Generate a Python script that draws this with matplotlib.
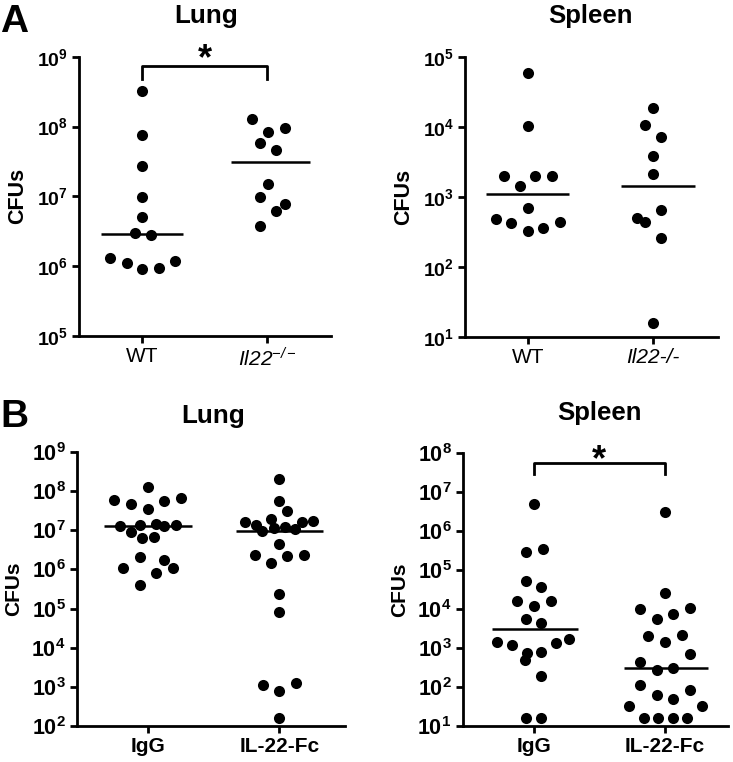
import numpy as np
import matplotlib
matplotlib.use("Agg")
import matplotlib.pyplot as plt
from matplotlib.ticker import NullLocator

plt.rcParams['font.family'] = ['Liberation Sans', 'DejaVu Sans']
plt.rcParams['mathtext.fontset'] = 'custom'
plt.rcParams['mathtext.bf'] = 'Liberation Sans:bold'
plt.rcParams['mathtext.rm'] = 'Liberation Sans:bold'
plt.rcParams['mathtext.sf'] = 'Liberation Sans:italic'
plt.rcParams['mathtext.it'] = 'Liberation Sans:italic'

# ---- data (CFUs per mouse), x jitter ----
a_lung_wt_x = [0, 0, 0, 0, 0, -0.06, 0.07, -0.26, -0.12, 0, 0.135, 0.26]
a_lung_wt = [3.2e8, 7.6e7, 2.7e7, 9.7e6, 5.1e6, 2.95e6, 2.8e6, 1.32e6, 1.1e6, 9.0e5, 9.3e5, 1.19e6]
a_lung_ko_x = [-0.12, 0.14, 0.01, -0.055, 0.075, 0.01, -0.055, 0.14, 0.075, -0.055]
a_lung_ko = [1.27e8, 9.4e7, 8.3e7, 5.9e7, 4.6e7, 1.52e7, 9.9e6, 7.9e6, 6.2e6, 3.8e6]
a_lung_medians = [2.9e6, 3.07e7]

a_spl_wt_x = [0, 0, -0.19, 0.06, 0.19, -0.065, 0, -0.255, -0.13, 0.255, 0, 0.125]
a_spl_wt = [5.8e4, 1.03e4, 2.0e3, 2.0e3, 2.0e3, 1.45e3, 705, 486, 431, 440, 324, 357]
a_spl_ko_x = [0, -0.065, 0.065, 0, 0, 0.065, -0.13, -0.065, 0.065, 0]
a_spl_ko = [1.84e4, 1.06e4, 7.2e3, 3.8e3, 2.13e3, 653, 497, 436, 261, 16.2]
a_spl_medians = [1.09e3, 1.42e3]

b_lung_igg_x = [0, -0.26, -0.13, 0.12, 0.25, 0, -0.215, -0.065, 0.06, 0.12, 0.21,
                -0.13, -0.045, 0.04, -0.065, 0.12, -0.19, 0.19, 0.06, -0.063]
b_lung_igg = [1.3e8, 5.9e7, 4.7e7, 5.6e7, 6.6e7, 3.6e7, 1.29e7, 1.36e7, 1.42e7, 1.29e7, 1.36e7,
              9.2e6, 6.2e6, 6.9e6, 2.1e6, 1.74e6, 1.07e6, 1.07e6, 8.2e5, 4.0e5]
b_lung_fc_x = [0, 0, 0.06, -0.26, -0.066, 0.255, -0.18, 0.17, -0.135, -0.045, 0.044, 0.12,
               0, -0.19, 0.06, 0.19, -0.066, 0, 0, -0.127, 0.127, 0, 0]
b_lung_fc = [2.04e8, 5.7e7, 3.1e7, 1.66e7, 2.0e7, 1.73e7, 1.36e7, 1.6e7, 9.6e6, 1.16e7, 1.24e7, 1.06e7,
             4.6e6, 2.33e6, 2.24e6, 2.33e6, 1.43e6, 2.4e5, 8.0e4, 1.11e3, 1.28e3, 7.8e2, 163]
b_lung_medians = [1.29e7, 9.8e6]

b_spl_igg_x = [0, -0.06, 0.07, -0.06, 0.06, -0.13, 0, 0.13, -0.06, 0.06,
               -0.277, -0.168, 0.17, 0.27, -0.05, 0.056, -0.066, 0.06, -0.06, 0.06]
b_spl_igg = [4.8e6, 2.9e5, 3.5e5, 5.3e4, 3.7e4, 1.62e4, 1.2e4, 1.62e4, 5.4e3, 4.4e3,
             1.39e3, 1.19e3, 1.31e3, 1.69e3, 728, 800, 490, 190, 16.5, 16.5]
b_spl_fc_x = [0, 0, -0.19, -0.063, 0.06, 0.19, -0.127, 0, 0.127, 0.19, -0.19, -0.063,
              0.063, -0.19, -0.063, 0.063, 0.19, -0.272, 0.28, -0.16, -0.05, 0.06, 0.165]
b_spl_fc = [3.1e6, 2.6e4, 9.8e3, 5.5e3, 7.4e3, 1.03e4, 2.0e3, 1.44e3, 2.14e3, 698, 444, 272,
            300, 112, 62, 48, 84, 32.5, 32.5, 16.5, 16.5, 16.5, 16.5]
b_spl_medians = [3.05e3, 300]

fig = plt.figure(figsize=(7.33, 7.62), dpi=100)


def draw_panel(rect, groups, medians, med_span, xlim, decades, xlabels, tick_fs, xlab_kw, ylab_fs):
    ax = fig.add_axes(rect)
    for i, (xo, vals) in enumerate(groups):
        ax.plot(np.array(xo) + i, vals, 'o', color='black', markersize=8.0, markeredgewidth=0)
        ax.plot([i + med_span[i][0], i + med_span[i][1]], [medians[i]] * 2, color='black', lw=1.8,
                solid_capstyle='butt')
    ax.set_yscale('log')
    ax.set_ylim(10.0 ** decades[0], 10.0 ** decades[-1])
    ax.set_xlim(*xlim)
    ax.yaxis.set_minor_locator(NullLocator())
    ax.set_yticks([10.0 ** d for d in decades])
    ax.set_yticklabels([r'$\mathbf{10}^{\mathbf{%d}}$' % d for d in decades], fontsize=tick_fs)
    ax.set_xticks([0, 1])
    ax.set_xticklabels(xlabels, **xlab_kw)
    for s in ['top', 'right']:
        ax.spines[s].set_visible(False)
    for s in ['left', 'bottom']:
        ax.spines[s].set_linewidth(2)
    ax.tick_params(axis='both', direction='out', length=5, width=2, pad=3)
    ax.set_ylabel('CFUs', fontsize=ylab_fs, fontweight='bold', labelpad=6)
    return ax


def bracket(ax, y_top, y_bot, star_y, fs):
    ax.plot([0, 0, 1, 1], [y_bot, y_top, y_top, y_bot], color='black', lw=2, clip_on=False)
    ax.text(0.5, star_y, '*', ha='center', va='baseline', fontsize=fs, fontweight='bold')


# A - Lung
ax1 = draw_panel([0.1078, 0.559, 0.3438, 0.3666],
                 [(a_lung_wt_x, a_lung_wt), (a_lung_ko_x, a_lung_ko)], a_lung_medians,
                 [(-0.33, 0.33), (-0.29, 0.34)], (-0.504, 1.512), [5, 6, 7, 8, 9],
                 ['WT', r'$\mathsf{Il22}^{\mathsf{-/-}}$'], 14, dict(fontsize=15), 15.5)
bracket(ax1, 10 ** 8.871, 10 ** 8.68, 10 ** 8.82, 26)

# A - Spleen
ax2 = draw_panel([0.6344, 0.5574, 0.3447, 0.3682],
                 [(a_spl_wt_x, a_spl_wt), (a_spl_ko_x, a_spl_ko)], a_spl_medians,
                 [(-0.33, 0.33), (-0.26, 0.33)], (-0.5, 1.513), [1, 2, 3, 4, 5],
                 ['WT', 'Il22-/-'], 14, dict(fontsize=15), 15.5)
ax2.get_xticklabels()[1].set_style('italic')

# B - Lung
ax3 = draw_panel([0.1046, 0.0472, 0.366, 0.3596],
                 [(b_lung_igg_x, b_lung_igg), (b_lung_fc_x, b_lung_fc)], b_lung_medians,
                 [(-0.336, 0.336), (-0.33, 0.33)], (-0.547, 1.5), [2, 3, 4, 5, 6, 7, 8, 9],
                 ['IgG', 'IL-22-Fc'], 15.5, dict(fontsize=15, fontweight='bold'), 15)

# B - Spleen
ax4 = draw_panel([0.6312, 0.0472, 0.3615, 0.3587],
                 [(b_spl_igg_x, b_spl_igg), (b_spl_fc_x, b_spl_fc)], b_spl_medians,
                 [(-0.317, 0.335), (-0.31, 0.33)], (-0.54, 1.478), [1, 2, 3, 4, 5, 6, 7, 8],
                 ['IgG', 'IL-22-Fc'], 15.5, dict(fontsize=15, fontweight='bold'), 15)
bracket(ax4, 10 ** 7.744, 10 ** 7.447, 10 ** 7.553, 26)

# titles and panel letters
fig.text(205.7 / 733, 1 - 23.3 / 762, 'Lung', ha='center', va='baseline', fontsize=18.7, fontweight='bold')
fig.text(590 / 733, 1 - 22.7 / 762, 'Spleen', ha='center', va='baseline', fontsize=18.5, fontweight='bold')
fig.text(213.3 / 733, 1 - 422.7 / 762, 'Lung', ha='center', va='baseline', fontsize=18.7, fontweight='bold')
fig.text(599.3 / 733, 1 - 420.3 / 762, 'Spleen', ha='center', va='baseline', fontsize=18.5, fontweight='bold')
fig.text(0.0, 1 - 31.7 / 762, 'A', ha='left', va='baseline', fontsize=28, fontweight='bold')
fig.text(0.0, 1 - 426.7 / 762, 'B', ha='left', va='baseline', fontsize=28, fontweight='bold')

fig.savefig('out.png', dpi=100)
